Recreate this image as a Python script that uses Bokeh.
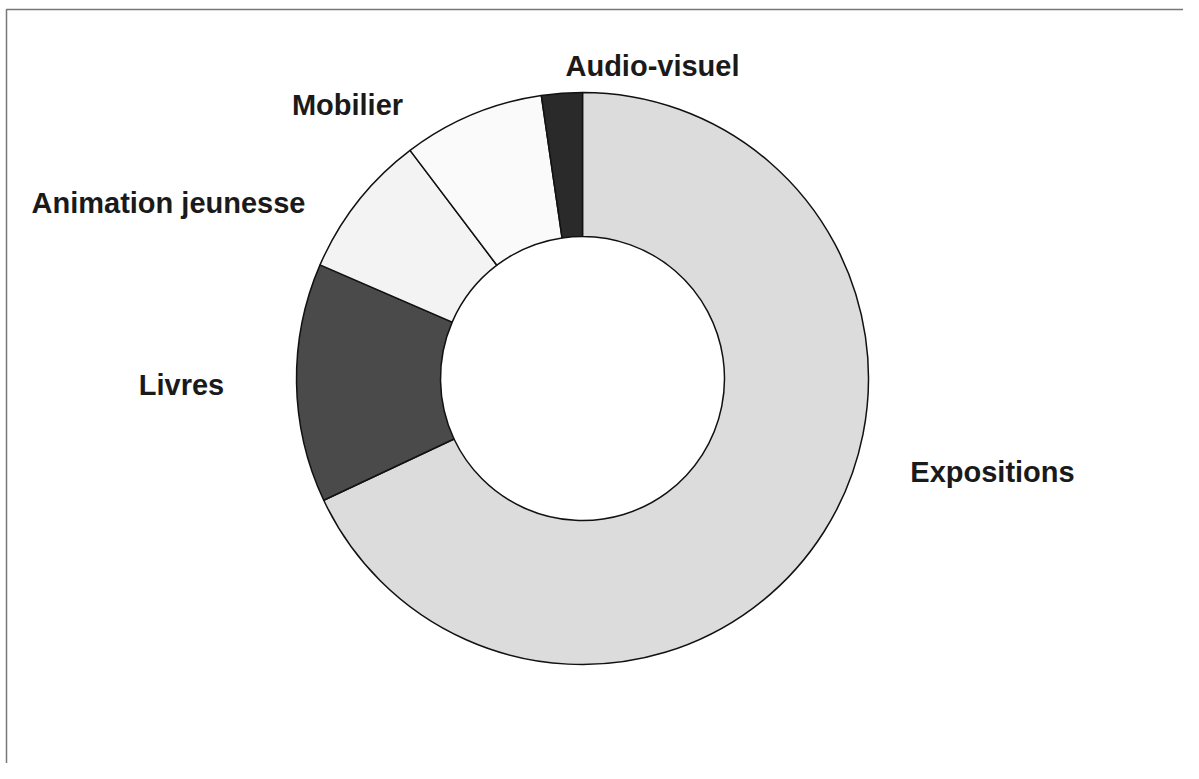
import numpy as np
from bokeh.plotting import figure
from bokeh.models import Range1d, ColumnDataSource
from bokeh.core.properties import value
from bokeh.embed import file_html
from bokeh.resources import INLINE

categories = ["Expositions", "Livres", "Animation jeunesse", "Mobilier", "Audio-visuel"]
shares = [68.0, 13.5, 8.2, 8.0, 2.3]
colors = ["#dcdcdc", "#4a4a4a", "#f3f3f3", "#fafafa", "#2a2a2a"]

# label anchor positions (pixels from top-left, centre of text)
label_x = [992, 181, 168, 347, 652]
label_y = [471, 384, 202, 104, 65]

W, H = 1183, 763

p = figure(width=W, height=H, output_backend="svg", toolbar_location=None,
           x_range=Range1d(0, W), y_range=Range1d(0, H), min_border=0)
p.axis.visible = False
p.grid.visible = False
p.outline_line_color = None
p.background_fill_color = "white"
p.border_fill_color = "white"

# frame (top and left edges visible in the scan)
p.line(x=[6, 6, W], y=[0, H - 9, H - 9], line_color="#777777", line_width=1.5)

cx, cy = 582, H - 378
r_out, r_in = 286, 142

vals = np.array(shares, dtype=float)
frac = vals / vals.sum()
cum = np.concatenate([[0], np.cumsum(frac)])
start = np.pi / 2 - cum[:-1] * 2 * np.pi
end = np.pi / 2 - cum[1:] * 2 * np.pi

src = ColumnDataSource(dict(cat=categories, start=start, end=end, color=colors))
p.annular_wedge(x=cx, y=cy, inner_radius=r_in, outer_radius=r_out,
                start_angle="start", end_angle="end", direction="clock",
                fill_color="color", line_color="#111111", line_width=1.5, source=src)

lsrc = ColumnDataSource(dict(x=label_x, y=[H - ly for ly in label_y], t=categories))
p.text(x="x", y="y", text="t", source=lsrc, text_align="center", text_baseline="middle",
       text_font=value("Liberation Sans"), text_font_style="bold", text_font_size="29px",
       text_color="#1a1a1a")

open("out.html", "w").write(file_html(p, INLINE))
